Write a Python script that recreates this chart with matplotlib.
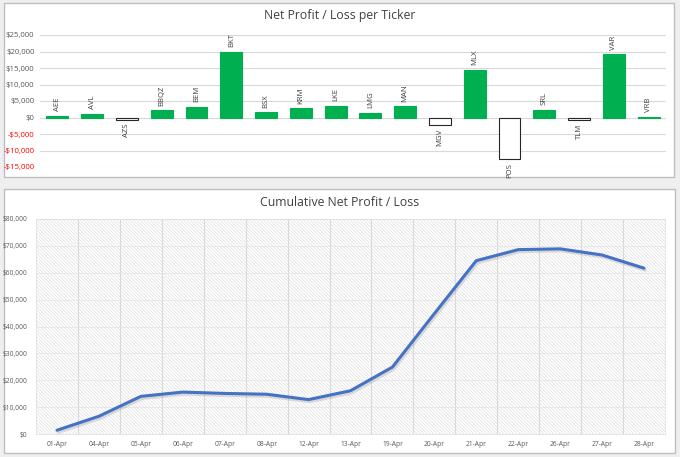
import matplotlib
matplotlib.use("Agg")
import matplotlib.pyplot as plt
import matplotlib.patheffects as pe
from matplotlib.patches import Rectangle
from matplotlib.ticker import FuncFormatter, MultipleLocator

# data
tickers = ["AEE", "AVL", "AZS", "BBQZ", "BEM", "BKT", "BSX", "KRM", "LKE",
           "LMG", "MAN", "MGV", "MLX", "POS", "SRL", "TLM", "VAR", "VRB"]
profit = [600, 1200, -700, 2200, 3300, 20000, 1600, 2800, 3600,
          1500, 3400, -2200, 14500, -12600, 2400, -700, 19200, 300]

dates = ["01-Apr", "04-Apr", "05-Apr", "06-Apr", "07-Apr", "08-Apr", "12-Apr",
         "13-Apr", "19-Apr", "20-Apr", "21-Apr", "22-Apr", "26-Apr", "27-Apr", "28-Apr"]
cumulative = [1400, 6600, 14000, 15600, 15100, 14800, 12800,
              16100, 24900, 44800, 64500, 68600, 68900, 66600, 61700]

W, H = 680, 457
plt.rcParams['font.family'] = ['Open Sans', 'DejaVu Sans']
plt.rcParams['hatch.linewidth'] = 0.35

fig = plt.figure(figsize=(W / 100, H / 100), dpi=100)
fig.patch.set_facecolor("#efefef")


def px_rect(x0, y0, x1, y1):
    # pixel box (top-left origin) -> figure fraction [l, b, w, h]
    return [x0 / W, 1 - y1 / H, (x1 - x0) / W, (y1 - y0) / H]


# white panels
for box in [(4, 3, 674, 177), (4, 189, 675, 453)]:
    l, b, w, h = px_rect(*box)
    fig.patches.append(Rectangle((l, b), w, h, transform=fig.transFigure,
                                 facecolor="white", edgecolor="#bfbfbf", lw=1, zorder=-1))

text_col = "#595959"


def money(v, pos=None):
    v = int(round(v))
    if v < 0:
        return "-${:,}".format(-v)
    return "${:,}".format(v)


# --- top chart ---
ax1 = fig.add_axes(px_rect(40, 35, 666, 167))
ax1.set_facecolor("none")
x = range(len(tickers))
colors = ["#00b050" if v >= 0 else "white" for v in profit]
edges = ["#00b050" if v >= 0 else "#262626" for v in profit]
ax1.bar(x, profit, width=0.63, color=colors, edgecolor=edges, linewidth=0.8, zorder=3)
for i, v in enumerate(profit):
    if v >= 0:
        ax1.annotate(tickers[i], (i, v), xytext=(0, 3), textcoords="offset points",
                     rotation=90, ha="center", va="bottom", fontsize=5.6,
                     color="#404040", annotation_clip=False)
    else:
        ax1.annotate(tickers[i], (i, v), xytext=(0, -3), textcoords="offset points",
                     rotation=90, ha="center", va="top", fontsize=5.6,
                     color="#404040", annotation_clip=False)
ax1.set_xlim(-0.5, len(tickers) - 0.5)
ax1.set_ylim(-15000, 25000)
ax1.yaxis.set_major_locator(MultipleLocator(5000))
ax1.yaxis.set_major_formatter(FuncFormatter(money))
ax1.grid(axis="y", color="#d9d9d9", lw=0.8, zorder=0)
ax1.set_xticks([])
for s in ax1.spines.values():
    s.set_visible(False)
ax1.tick_params(axis="y", length=0, labelsize=5.6, pad=4)
fig.canvas.draw()
for lab in ax1.get_yticklabels():
    lab.set_color("#ff0000" if lab.get_text().startswith("-") else text_col)
fig.text(340 / W, 1 - 15 / H, "Net Profit / Loss per Ticker", ha="center", va="center",
         fontsize=8.8, color="#404040")

# --- bottom chart ---
ax2 = fig.add_axes(px_rect(36, 219, 665, 434))
ax2.set_facecolor("white")
ax2.add_patch(Rectangle((0, 0), 1, 1, transform=ax2.transAxes, facecolor="white",
                        edgecolor="#d2d2d2", hatch="\\" * 10, lw=0, zorder=0))
xd = range(len(dates))
ax2.plot(xd, cumulative, color="#4472c4", lw=2.2, zorder=4, solid_capstyle="round",
         path_effects=[pe.SimpleLineShadow(offset=(1, -1.5), shadow_color="#7f7f7f", alpha=0.25),
                       pe.Normal()])
ax2.set_xlim(-0.5, len(dates) - 0.5)
ax2.set_ylim(0, 80000)
ax2.set_xticks(list(xd))
ax2.set_xticklabels(dates)
ax2.set_xticks([i + 0.5 for i in range(len(dates) - 1)], minor=True)
ax2.yaxis.set_major_locator(MultipleLocator(10000))
ax2.yaxis.set_major_formatter(FuncFormatter(money))
ax2.grid(axis="y", which="major", color="#e6e6e6", lw=0.6, zorder=1)
ax2.grid(axis="x", which="minor", color="#d9d9d9", lw=0.8, zorder=1)
for s in ax2.spines.values():
    s.set_color("#e0e0e0")
    s.set_linewidth(0.6)
ax2.tick_params(which="both", length=0, labelsize=4.8, labelcolor=text_col)
ax2.tick_params(axis="x", pad=5)
ax2.tick_params(axis="y", pad=6)
fig.text(340 / W, 1 - 203 / H, "Cumulative Net Profit / Loss", ha="center", va="center",
         fontsize=8.8, color="#404040")

fig.savefig("out.png", dpi=100, facecolor=fig.get_facecolor())
